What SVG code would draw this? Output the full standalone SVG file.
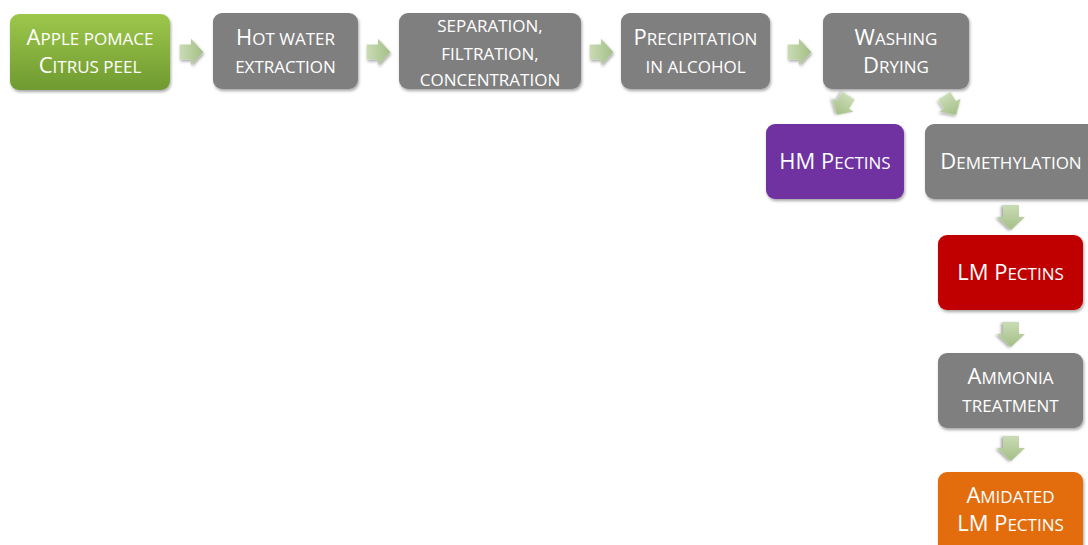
<svg xmlns="http://www.w3.org/2000/svg" width="1088" height="545" viewBox="0 0 1088 545">
<defs>
  <linearGradient id="gGreen" x1="0" y1="0" x2="0" y2="1">
    <stop offset="0" stop-color="#9DC74B"/>
    <stop offset="1" stop-color="#6F9A30"/>
  </linearGradient>
  <linearGradient id="gArrow" x1="0" y1="0" x2="1" y2="0">
    <stop offset="0" stop-color="#CADBB5"/>
    <stop offset="1" stop-color="#A3BF86"/>
  </linearGradient>
  <filter id="sh" x="-10%" y="-10%" width="125%" height="135%">
    <feDropShadow dx="1" dy="2" stdDeviation="1.8" flood-color="#000" flood-opacity="0.35"/>
  </filter>
  <path id="arr" d="M-12,-8 L0,-8 L0,-14 L13,0 L0,14 L0,8 L-12,8 Z"/>
</defs>
<style>
  .box { stroke: none; filter: url(#sh); }
  .gray { fill: #7F7F7F; }
  .t { font-family: "Open Sans", "Liberation Sans", sans-serif; font-size: 17px; fill: #FFFFFF; text-anchor: middle; }
  .b { font-size: 22px; }
  .a { fill: url(#gArrow); filter: url(#sh); }
</style>

<g id="connectors">
  <use href="#arr" class="a" transform="translate(191,52) scale(0.95)"/>
  <use href="#arr" class="a" transform="translate(378,52) scale(0.95)"/>
  <use href="#arr" class="a" transform="translate(601,52) scale(0.95)"/>
  <use href="#arr" class="a" transform="translate(799,52) scale(0.95)"/>
  <use href="#arr" class="a" transform="translate(843,105) rotate(122) scale(0.9)"/>
  <use href="#arr" class="a" transform="translate(950,105) rotate(58) scale(0.9)"/>
  <use href="#arr" class="a" transform="translate(1011,217) rotate(90)"/>
  <use href="#arr" class="a" transform="translate(1011,334) rotate(90)"/>
  <use href="#arr" class="a" transform="translate(1011,448) rotate(90)"/>
</g>

<g id="apple">
  <rect class="box" x="10" y="14" width="160" height="76" rx="9" fill="url(#gGreen)"/>
  <text class="t" x="90" y="45"><tspan class="b">A</tspan>PPLE POMACE</text>
  <text class="t" x="90" y="73"><tspan class="b">C</tspan>ITRUS PEEL</text>
</g>
<g id="hotwater">
  <rect class="box gray" x="213" y="13" width="145" height="76" rx="9"/>
  <text class="t" x="285.5" y="45"><tspan class="b">H</tspan>OT WATER</text>
  <text class="t" x="285.5" y="73">EXTRACTION</text>
</g>
<g id="separation">
  <rect class="box gray" x="399" y="13" width="182" height="76" rx="9"/>
  <text class="t" x="490" y="32">SEPARATION,</text>
  <text class="t" x="490" y="60">FILTRATION,</text>
  <text class="t" x="490" y="86">CONCENTRATION</text>
</g>
<g id="precipitation">
  <rect class="box gray" x="621" y="13" width="149" height="76" rx="9"/>
  <text class="t" x="695.5" y="45"><tspan class="b">P</tspan>RECIPITATION</text>
  <text class="t" x="695.5" y="73">IN ALCOHOL</text>
</g>
<g id="washing">
  <rect class="box gray" x="823" y="13" width="146" height="76" rx="9"/>
  <text class="t" x="896" y="45"><tspan class="b">W</tspan>ASHING</text>
  <text class="t" x="896" y="73"><tspan class="b">D</tspan>RYING</text>
</g>
<g id="hm">
  <rect class="box" x="766" y="124" width="138" height="75" rx="9" fill="#7030A0"/>
  <text class="t" x="835" y="169"><tspan class="b">HM P</tspan>ECTINS</text>
</g>
<g id="demethylation">
  <rect class="box gray" x="925" y="124" width="172" height="75" rx="9"/>
  <text class="t" x="1011" y="169"><tspan class="b">D</tspan>EMETHYLATION</text>
</g>
<g id="lm">
  <rect class="box" x="938" y="235" width="145" height="75" rx="9" fill="#C00000"/>
  <text class="t" x="1010.5" y="280"><tspan class="b">LM P</tspan>ECTINS</text>
</g>
<g id="ammonia">
  <rect class="box gray" x="938" y="353" width="145" height="75" rx="9"/>
  <text class="t" x="1010.5" y="384"><tspan class="b">A</tspan>MMONIA</text>
  <text class="t" x="1010.5" y="412">TREATMENT</text>
</g>
<g id="amidated">
  <rect class="box" x="938" y="472" width="145" height="85" rx="9" fill="#E36C0A"/>
  <text class="t" x="1010.5" y="503"><tspan class="b">A</tspan>MIDATED</text>
  <text class="t" x="1010.5" y="531"><tspan class="b">LM P</tspan>ECTINS</text>
</g>
</svg>
